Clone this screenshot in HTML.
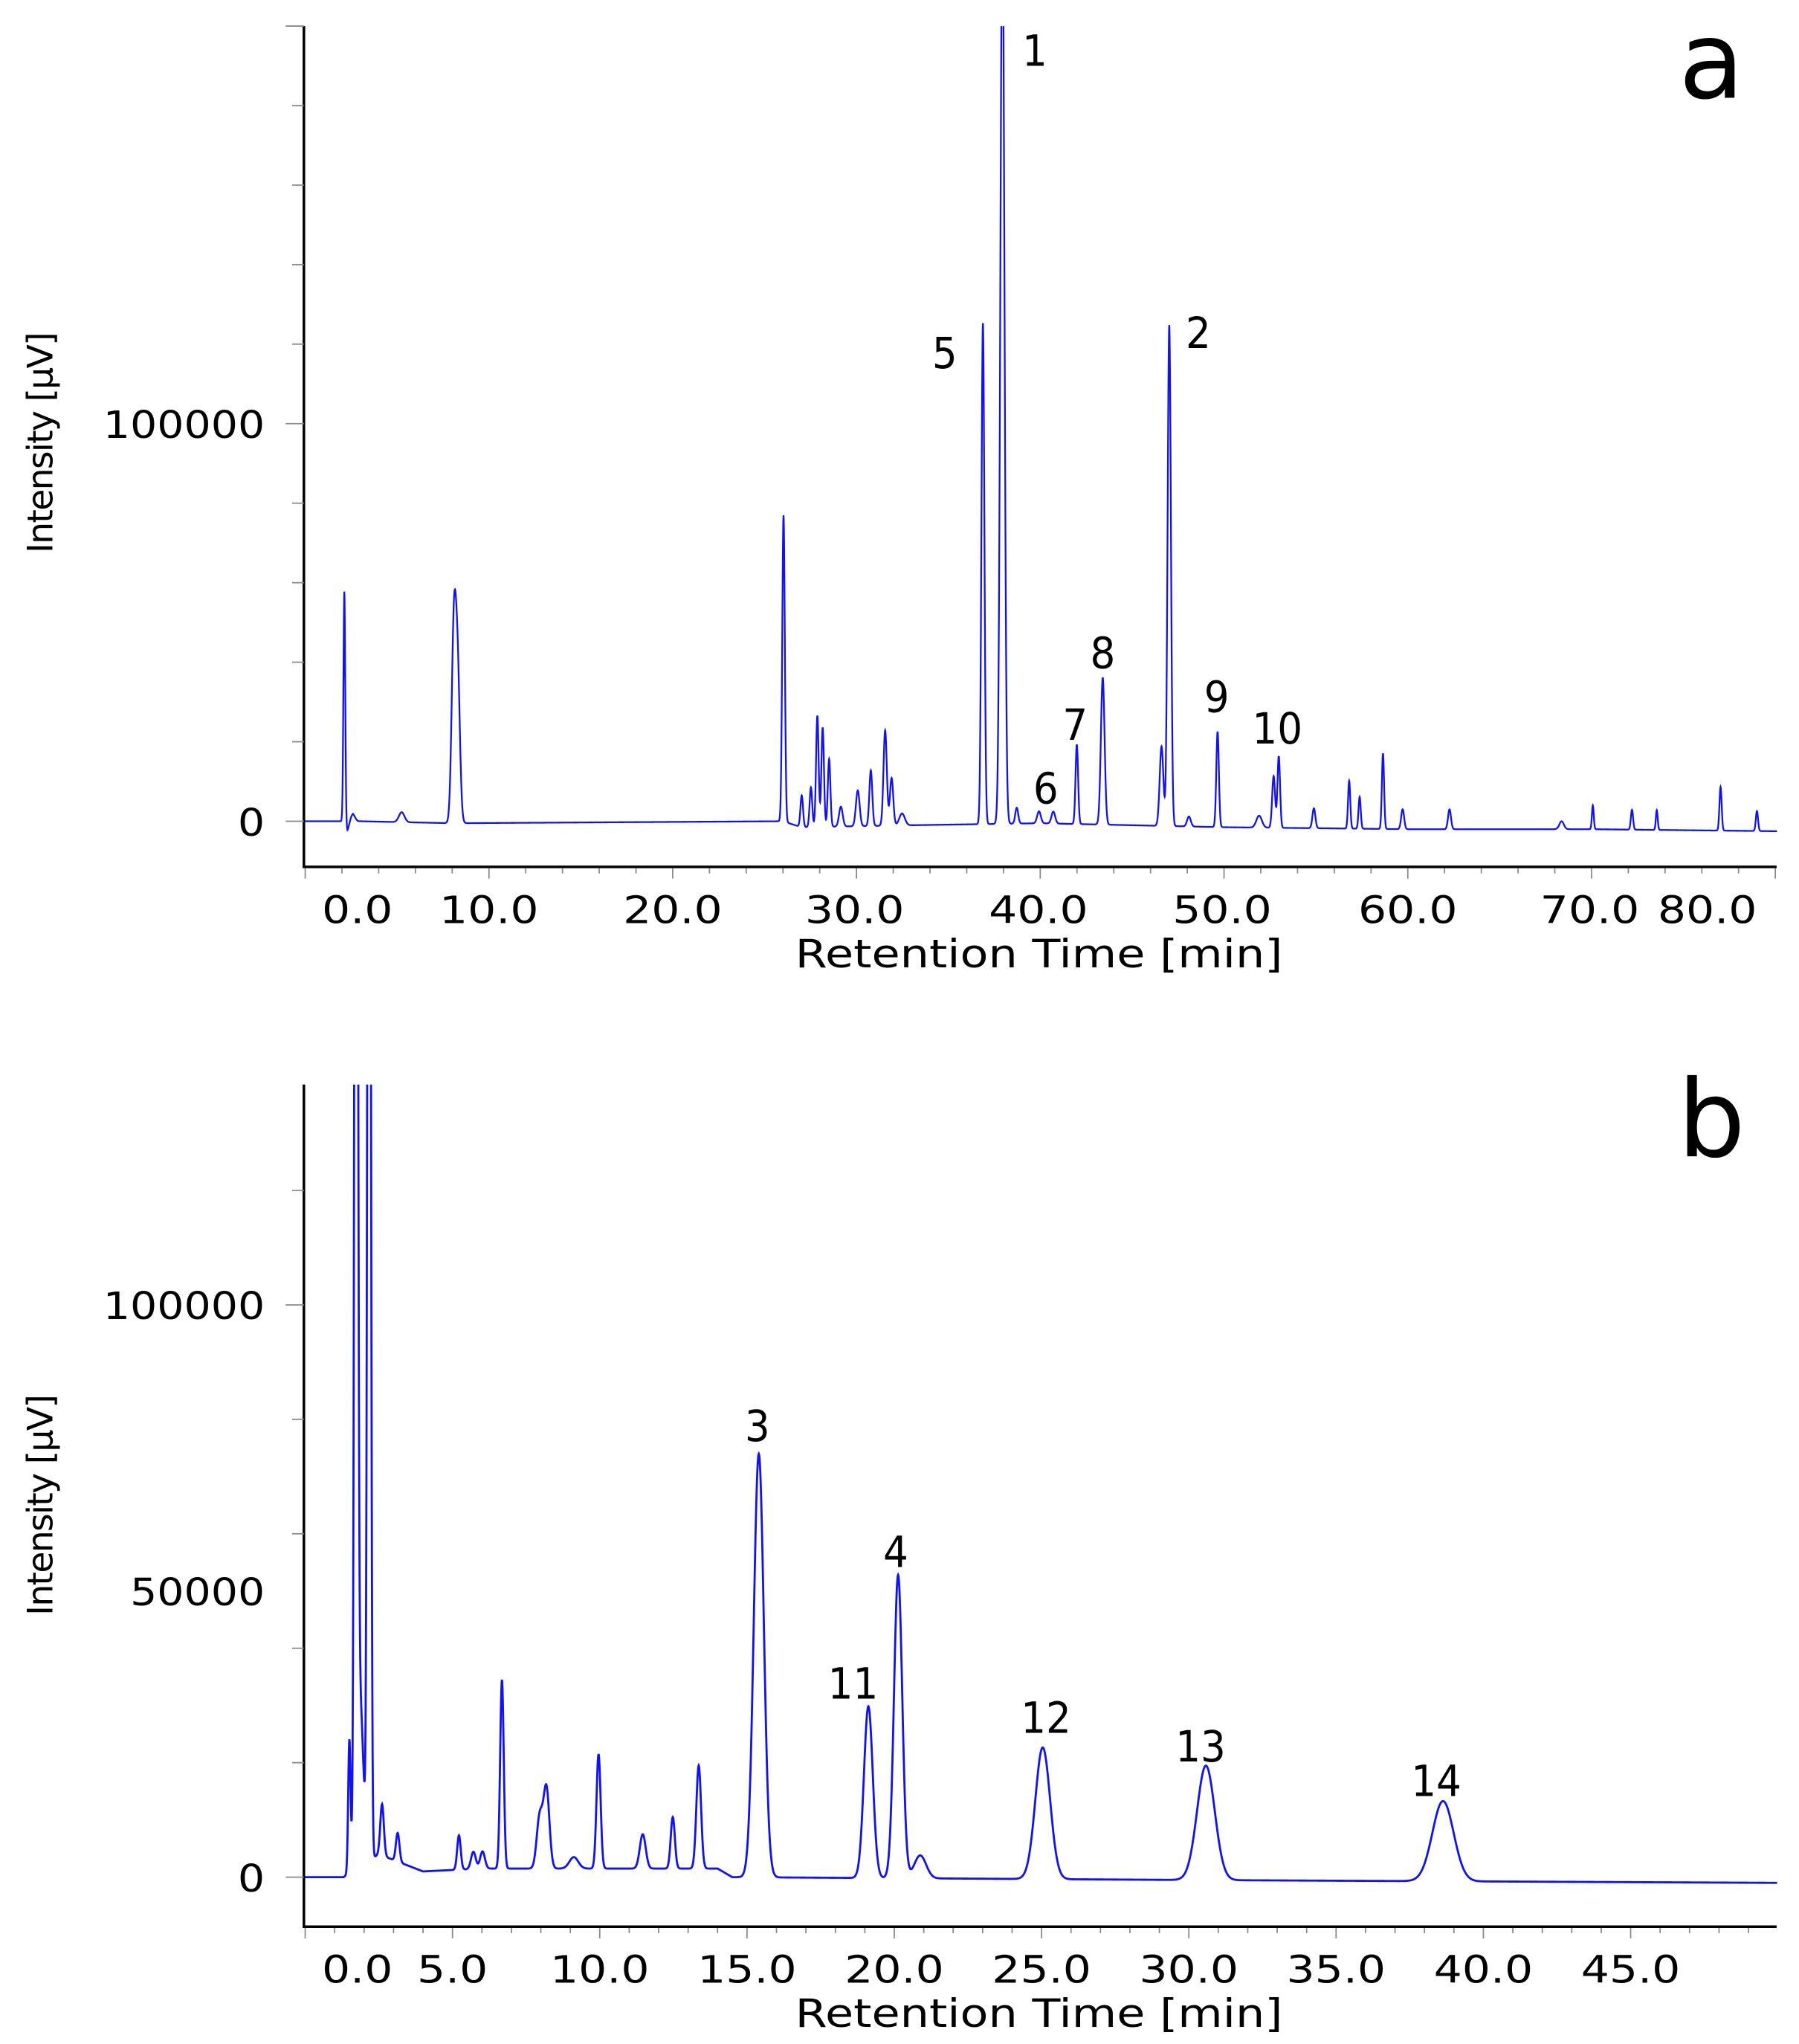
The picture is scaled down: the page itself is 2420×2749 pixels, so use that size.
<!DOCTYPE html>
<html><head><meta charset="utf-8"><style>
html,body{margin:0;padding:0;background:#fff;}
svg{display:block;}
text{font-family:"DejaVu Sans","Liberation Sans",sans-serif;fill:#000;}
</style></head><body>
<svg id="chart" width="2420" height="2749" viewBox="0 0 1380 1568" xmlns="http://www.w3.org/2000/svg">
<defs>
<clipPath id="clipA"><rect x="234" y="20" width="1130" height="644"/></clipPath>
<clipPath id="clipB"><rect x="234" y="832" width="1130" height="645"/></clipPath>
</defs>
<g id="panelA"></g>
<g id="panelB"></g>
</svg>
<script>
// ---- Panel a data ----
const aPeakTimes = [2.13,2.55,5.25,8.09,8.3,26.03,27.02,27.52,27.87,28.16,28.51,29.15,30.07,30.78,31.56,31.91,32.48,36.88,37.94,38.72,39.93,40.71,41.99,43.4,46.6,47.02,48.09,49.65,51.91,52.7,52.98,54.89,56.81,57.38,58.65,59.72,62.27,68.37,70.07,72.2,73.55,77.02,79.0];
const aPeakHeights = [59000,2500,2500,48000,36000,77000,8000,10000,28000,25000,17000,5000,9000,14000,24000,12000,3000,126000,230000,4000,3000,3000,20000,37000,20000,126000,2500,24000,3000,13000,18000,5000,12000,8000,19000,5000,5000,2000,6000,5000,5000,11000,5000];
const aPeakWidths = [0.05,0.15,0.15,0.12,0.12,0.07,0.07,0.07,0.07,0.07,0.07,0.1,0.1,0.08,0.09,0.09,0.15,0.08,0.11,0.08,0.1,0.1,0.07,0.1,0.1,0.09,0.1,0.07,0.15,0.08,0.07,0.08,0.06,0.06,0.06,0.08,0.08,0.12,0.05,0.06,0.05,0.06,0.06];
const aBaseTimes = [0,2,2.3,2.6,3,8,26,27,33,40,50,60,70,80];
const aBaseValues = [0,0,-3000,-500,0,-500,0,-1500,-1000,-500,-1500,-2000,-2000,-2500];
const aXTickLabels = ["0.0","10.0","20.0","30.0","40.0","50.0","60.0","70.0","80.0"];
const aXTickLabelAt = [2.84,10,20,29.9,39.9,49.9,60,69.9,76.3];
const aYTickLabels = ["0","100000"];
const aYTickValues = [0,100000];
const aPeakLabels = ["1","5","2","8","7","6","9","10"];
const aPeakLabelT = [39.7,34.8,48.6,43.4,41.9,40.3,49.6,52.9];
const aPeakLabelV = [190000,114000,119000,38500,20500,4500,27500,19500];

// ---- Panel b data ----
const bPeakTimes = [1.5,1.73,2.17,1.85,2.61,3.14,5.22,5.71,6.02,6.68,7.96,8.19,9.12,9.96,11.46,12.48,13.36,15.4,19.12,20.13,20.88,25.04,30.58,38.63];
const bPeakHeights = [23000,320000,320000,30000,9000,5000,6000,3000,3000,33000,9000,14000,2000,20000,6000,9000,18000,74000,30000,53000,4000,23000,20000,14000];
const bPeakWidths = [0.04,0.05,0.05,0.12,0.06,0.06,0.06,0.08,0.08,0.06,0.1,0.1,0.15,0.07,0.1,0.07,0.08,0.17,0.15,0.14,0.2,0.25,0.3,0.36];
const bBaseTimes = [0,1.3,2.5,4,6,14,14.5,30,50];
const bBaseValues = [0,0,4000,1000,1500,1500,0,-500,-1000];
const bXTickLabels = ["0.0","5.0","10.0","15.0","20.0","25.0","30.0","35.0","40.0","45.0"];
const bXTickLabelAt = [1.77,5,10,15,20,25,30,35,40,45];
const bYTickLabels = ["0","50000","100000"];
const bYTickValues = [0,50000,100000];
const bPeakLabels = ["3","4","11","12","13","14"];
const bPeakLabelT = [15.35,20.05,18.6,25.15,30.4,38.4];
const bPeakLabelV = [76200,54200,31200,25200,20200,14200];

const NS="http://www.w3.org/2000/svg";
function mk(tag,attrs,parent){const e=document.createElementNS(NS,tag);for(const k in attrs)e.setAttribute(k,attrs[k]);parent.appendChild(e);return e;}
function stretch(t,f){try{const w=t.getComputedTextLength();t.setAttribute("textLength",(w*f).toFixed(1));t.setAttribute("lengthAdjust","spacingAndGlyphs");}catch(e){}}

function interp(ts,vs,t){if(t<=ts[0])return vs[0];for(let i=1;i<ts.length;i++){if(t<=ts[i]){const f=(t-ts[i-1])/(ts[i]-ts[i-1]);return vs[i-1]+f*(vs[i]-vs[i-1]);}}return vs[vs.length-1];}

function drawPanel(g,cfg){
  const xs=t=>cfg.x0+t*cfg.pxPerMin;
  const ys=v=>cfg.y0-v*cfg.pxPerUnit;
  let d="";
  for(let t=cfg.tStart;t<=cfg.tEnd;t+=0.01){
    let v=interp(cfg.baseT,cfg.baseV,t);
    for(let i=0;i<cfg.pt.length;i++){const z=(t-cfg.pt[i])/cfg.pw[i];if(Math.abs(z)<6)v+=cfg.ph[i]*Math.exp(-0.5*z*z);}
    d+=(d?"L":"M")+xs(t).toFixed(2)+","+ys(v).toFixed(2);
  }
  const tr=mk("path",{d:d,fill:"none",stroke:"#1010ff","stroke-width":cfg.sw,"clip-path":cfg.clip},g);
  
  
  const ax=mk("path",{d:`M${cfg.axX},${cfg.axTop}V${cfg.axBot}H${cfg.axRight}`,fill:"none",stroke:"#000","stroke-width":2},g);
  
  
  for(let t=0;xs(t)<=cfg.axRight;t+=cfg.minorX){
    const major=Math.abs((t/cfg.majorX)-Math.round(t/cfg.majorX))<1e-6;
    const tk=mk("line",{x1:xs(t),x2:xs(t),y1:cfg.axBot+1,y2:cfg.axBot+(major?9:5),stroke:"#888","stroke-width":1},g);
    
    
  }
  cfg.xl.forEach((s,i)=>{const tx=mk("text",{x:xs(cfg.xlAt[i]),y:cfg.axBot+43,"text-anchor":"middle","font-size":29},g);tx.textContent=s;
    
    
    stretch(tx,1.18);});
  for(let v=0;ys(v)>=cfg.axTop;v+=20000){
    const major=v%cfg.majorY===0;
    const tk=mk("line",{x1:cfg.axX-(major?14:9),x2:cfg.axX,y1:ys(v),y2:ys(v),stroke:"#888","stroke-width":1},g);
    
    
  }
  cfg.yl.forEach((s,i)=>{const tx=mk("text",{x:203,y:ys(cfg.yv[i])+11,"text-anchor":"end","font-size":29},g);tx.textContent=s;
    
    
    stretch(tx,1.12);});
  const xt=mk("text",{x:797,y:cfg.axBot+77,"text-anchor":"middle","font-size":30},g);xt.textContent="Retention Time [min]";
  
  
  stretch(xt,1.18);
  const yt=mk("text",{x:0,y:0,"text-anchor":"middle","font-size":27,transform:`translate(40,${cfg.yTitleY}) rotate(-90)`,"letter-spacing":"-1"},g);yt.textContent="Intensity [µV]";
  
  
  cfg.pl.forEach((s,i)=>{const tx=mk("text",{x:xs(cfg.plT[i]),y:ys(cfg.plV[i]),"text-anchor":"middle","font-size":33},g);tx.textContent=s;
    
    
    stretch(tx,0.92);});
  const pl=mk("text",{x:1313,y:cfg.letterY,"text-anchor":"middle","font-size":82},g);pl.textContent=cfg.letter;
  
  
}

drawPanel(document.getElementById("panelA"),{x0:234,pxPerMin:14.1,y0:630,pxPerUnit:305/100000,tStart:0,tEnd:80.1,
  pt:aPeakTimes,ph:aPeakHeights,pw:aPeakWidths,baseT:aBaseTimes,baseV:aBaseValues,clip:"url(#clipA)",sw:1.3,
  axX:233,axTop:20,axBot:665,axRight:1363,minorX:2,majorX:10,majorY:100000,
  xl:aXTickLabels,xlAt:aXTickLabelAt,yl:aYTickLabels,yv:aYTickValues,yTitleY:340,
  pl:aPeakLabels,plT:aPeakLabelT,plV:aPeakLabelV,letter:"a",letterY:75});
drawPanel(document.getElementById("panelB"),{x0:234,pxPerMin:22.6,y0:1440,pxPerUnit:4.39/1000,tStart:0,tEnd:49.97,
  pt:bPeakTimes,ph:bPeakHeights,pw:bPeakWidths,baseT:bBaseTimes,baseV:bBaseValues,clip:"url(#clipB)",sw:1.6,
  axX:233,axTop:832,axBot:1478,axRight:1363,minorX:1,majorX:5,majorY:100000,
  xl:bXTickLabels,xlAt:bXTickLabelAt,yl:bYTickLabels,yv:bYTickValues,yTitleY:1155,
  pl:bPeakLabels,plT:bPeakLabelT,plV:bPeakLabelV,letter:"b",letterY:887});
</script>
</body></html>
